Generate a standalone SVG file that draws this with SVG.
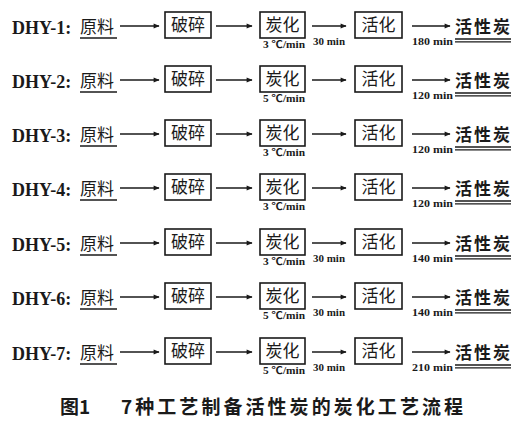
<svg xmlns="http://www.w3.org/2000/svg" width="524" height="440" viewBox="0 0 524 440">
<style>
.lbl{font-family:"Liberation Serif","Noto Sans CJK SC",serif;font-weight:bold;font-size:18px;fill:#1a1a1a}
.cn{font-family:"Noto Sans CJK SC",sans-serif;font-size:17px;fill:#1a1a1a}
.cnb{font-family:"Noto Sans CJK SC",sans-serif;font-size:17px;font-weight:bold;fill:#1a1a1a}
.sm{font-family:"Liberation Serif","Noto Sans CJK SC",serif;font-weight:bold;font-size:10.5px;fill:#1a1a1a}
.box{fill:#fff;stroke:#1a1a1a;stroke-width:1.6}
.ln{stroke:#1a1a1a;stroke-width:1.3;fill:none}
.ar{stroke:#1a1a1a;stroke-width:1.5;fill:none;marker-end:url(#ah)}
.cap{font-family:"Noto Sans CJK SC",sans-serif;font-weight:bold;font-size:19px;fill:#1a1a1a}
</style>
<defs>
<marker id="ah" viewBox="0 0 10 10" refX="9" refY="5" markerWidth="8" markerHeight="6" markerUnits="userSpaceOnUse" orient="auto">
<path d="M0,1 L10,5 L0,9 Z" fill="#1a1a1a"/>
</marker>
</defs>
<rect width="524" height="440" fill="#fff"/>

<!-- Row 1 cy=25 -->
<g id="r1-label"><text class="lbl" x="12" y="34">DHY-1:</text></g>
<g id="r1-raw"><text class="cn" x="80" y="33">原料</text><line class="ln" x1="80" y1="38" x2="117" y2="38"/></g>
<g id="r1-crush"><rect class="box" x="165" y="12" width="46" height="26"/><text class="cn" x="188" y="31" text-anchor="middle">破碎</text></g>
<g id="r1-carb"><rect class="box" x="260" y="12" width="45" height="26"/><text class="cn" x="282.5" y="31" text-anchor="middle">炭化</text><text class="sm" x="263" y="48" textLength="42" lengthAdjust="spacingAndGlyphs">3 ℃/min</text></g>
<g id="r1-act"><rect class="box" x="355" y="12" width="47" height="26"/><text class="cn" x="378.5" y="31" text-anchor="middle">活化</text></g>
<g id="r1-prod"><text class="cnb" x="455" y="33" textLength="55">活性炭</text><line class="ln" x1="455" y1="39" x2="511" y2="39"/><line class="ln" x1="455" y1="41.8" x2="511" y2="41.8"/></g>

<!-- Row 2 cy=79 -->
<g id="r2-label"><text class="lbl" x="12" y="88">DHY-2:</text></g>
<g id="r2-raw"><text class="cn" x="80" y="87">原料</text><line class="ln" x1="80" y1="92" x2="117" y2="92"/></g>
<g id="r2-crush"><rect class="box" x="165" y="66" width="46" height="26"/><text class="cn" x="188" y="85" text-anchor="middle">破碎</text></g>
<g id="r2-carb"><rect class="box" x="260" y="66" width="45" height="26"/><text class="cn" x="282.5" y="85" text-anchor="middle">炭化</text><text class="sm" x="263" y="102" textLength="42" lengthAdjust="spacingAndGlyphs">5 ℃/min</text></g>
<g id="r2-act"><rect class="box" x="355" y="66" width="47" height="26"/><text class="cn" x="378.5" y="85" text-anchor="middle">活化</text></g>
<g id="r2-prod"><text class="cnb" x="455" y="87" textLength="55">活性炭</text><line class="ln" x1="455" y1="93" x2="511" y2="93"/><line class="ln" x1="455" y1="95.8" x2="511" y2="95.8"/></g>

<!-- Row 3 cy=133 -->
<g id="r3-label"><text class="lbl" x="12" y="142">DHY-3:</text></g>
<g id="r3-raw"><text class="cn" x="80" y="141">原料</text><line class="ln" x1="80" y1="146" x2="117" y2="146"/></g>
<g id="r3-crush"><rect class="box" x="165" y="120" width="46" height="26"/><text class="cn" x="188" y="139" text-anchor="middle">破碎</text></g>
<g id="r3-carb"><rect class="box" x="260" y="120" width="45" height="26"/><text class="cn" x="282.5" y="139" text-anchor="middle">炭化</text><text class="sm" x="263" y="156" textLength="42" lengthAdjust="spacingAndGlyphs">3 ℃/min</text></g>
<g id="r3-act"><rect class="box" x="355" y="120" width="47" height="26"/><text class="cn" x="378.5" y="139" text-anchor="middle">活化</text></g>
<g id="r3-prod"><text class="cnb" x="455" y="141" textLength="55">活性炭</text><line class="ln" x1="455" y1="147" x2="511" y2="147"/><line class="ln" x1="455" y1="149.8" x2="511" y2="149.8"/></g>

<!-- Row 4 cy=187 -->
<g id="r4-label"><text class="lbl" x="12" y="196">DHY-4:</text></g>
<g id="r4-raw"><text class="cn" x="80" y="195">原料</text><line class="ln" x1="80" y1="200" x2="117" y2="200"/></g>
<g id="r4-crush"><rect class="box" x="165" y="174" width="46" height="26"/><text class="cn" x="188" y="193" text-anchor="middle">破碎</text></g>
<g id="r4-carb"><rect class="box" x="260" y="174" width="45" height="26"/><text class="cn" x="282.5" y="193" text-anchor="middle">炭化</text><text class="sm" x="263" y="210" textLength="42" lengthAdjust="spacingAndGlyphs">3 ℃/min</text></g>
<g id="r4-act"><rect class="box" x="355" y="174" width="47" height="26"/><text class="cn" x="378.5" y="193" text-anchor="middle">活化</text></g>
<g id="r4-prod"><text class="cnb" x="455" y="195" textLength="55">活性炭</text><line class="ln" x1="455" y1="201" x2="511" y2="201"/><line class="ln" x1="455" y1="203.8" x2="511" y2="203.8"/></g>

<!-- Row 5 cy=242 -->
<g id="r5-label"><text class="lbl" x="12" y="251">DHY-5:</text></g>
<g id="r5-raw"><text class="cn" x="80" y="250">原料</text><line class="ln" x1="80" y1="255" x2="117" y2="255"/></g>
<g id="r5-crush"><rect class="box" x="165" y="229" width="46" height="26"/><text class="cn" x="188" y="248" text-anchor="middle">破碎</text></g>
<g id="r5-carb"><rect class="box" x="260" y="229" width="45" height="26"/><text class="cn" x="282.5" y="248" text-anchor="middle">炭化</text><text class="sm" x="263" y="265" textLength="42" lengthAdjust="spacingAndGlyphs">3 ℃/min</text></g>
<g id="r5-act"><rect class="box" x="355" y="229" width="47" height="26"/><text class="cn" x="378.5" y="248" text-anchor="middle">活化</text></g>
<g id="r5-prod"><text class="cnb" x="455" y="250" textLength="55">活性炭</text><line class="ln" x1="455" y1="256" x2="511" y2="256"/><line class="ln" x1="455" y1="258.8" x2="511" y2="258.8"/></g>

<!-- Row 6 cy=296 -->
<g id="r6-label"><text class="lbl" x="12" y="305">DHY-6:</text></g>
<g id="r6-raw"><text class="cn" x="80" y="304">原料</text><line class="ln" x1="80" y1="309" x2="117" y2="309"/></g>
<g id="r6-crush"><rect class="box" x="165" y="283" width="46" height="26"/><text class="cn" x="188" y="302" text-anchor="middle">破碎</text></g>
<g id="r6-carb"><rect class="box" x="260" y="283" width="45" height="26"/><text class="cn" x="282.5" y="302" text-anchor="middle">炭化</text><text class="sm" x="263" y="319" textLength="42" lengthAdjust="spacingAndGlyphs">5 ℃/min</text></g>
<g id="r6-act"><rect class="box" x="355" y="283" width="47" height="26"/><text class="cn" x="378.5" y="302" text-anchor="middle">活化</text></g>
<g id="r6-prod"><text class="cnb" x="455" y="304" textLength="55">活性炭</text><line class="ln" x1="455" y1="310" x2="511" y2="310"/><line class="ln" x1="455" y1="312.8" x2="511" y2="312.8"/></g>

<!-- Row 7 cy=351 -->
<g id="r7-label"><text class="lbl" x="12" y="360">DHY-7:</text></g>
<g id="r7-raw"><text class="cn" x="80" y="359">原料</text><line class="ln" x1="80" y1="364" x2="117" y2="364"/></g>
<g id="r7-crush"><rect class="box" x="165" y="338" width="46" height="26"/><text class="cn" x="188" y="357" text-anchor="middle">破碎</text></g>
<g id="r7-carb"><rect class="box" x="260" y="338" width="45" height="26"/><text class="cn" x="282.5" y="357" text-anchor="middle">炭化</text><text class="sm" x="263" y="374" textLength="42" lengthAdjust="spacingAndGlyphs">5 ℃/min</text></g>
<g id="r7-act"><rect class="box" x="355" y="338" width="47" height="26"/><text class="cn" x="378.5" y="357" text-anchor="middle">活化</text></g>
<g id="r7-prod"><text class="cnb" x="455" y="359" textLength="55">活性炭</text><line class="ln" x1="455" y1="365" x2="511" y2="365"/><line class="ln" x1="455" y1="367.8" x2="511" y2="367.8"/></g>

<g id="connectors">
<line class="ar" x1="120" y1="26" x2="159" y2="26"/><line class="ar" x1="216" y1="26" x2="252" y2="26"/><line class="ar" x1="312" y1="26" x2="346" y2="26"/><line class="ar" x1="412" y1="26" x2="450" y2="26"/>
<line class="ar" x1="120" y1="80" x2="159" y2="80"/><line class="ar" x1="216" y1="80" x2="252" y2="80"/><line class="ar" x1="312" y1="80" x2="346" y2="80"/><line class="ar" x1="412" y1="80" x2="450" y2="80"/>
<line class="ar" x1="120" y1="134" x2="159" y2="134"/><line class="ar" x1="216" y1="134" x2="252" y2="134"/><line class="ar" x1="312" y1="134" x2="346" y2="134"/><line class="ar" x1="412" y1="134" x2="450" y2="134"/>
<line class="ar" x1="120" y1="188" x2="159" y2="188"/><line class="ar" x1="216" y1="188" x2="252" y2="188"/><line class="ar" x1="312" y1="188" x2="346" y2="188"/><line class="ar" x1="412" y1="188" x2="450" y2="188"/>
<line class="ar" x1="120" y1="243" x2="159" y2="243"/><line class="ar" x1="216" y1="243" x2="252" y2="243"/><line class="ar" x1="312" y1="243" x2="346" y2="243"/><line class="ar" x1="412" y1="243" x2="450" y2="243"/>
<line class="ar" x1="120" y1="297" x2="159" y2="297"/><line class="ar" x1="216" y1="297" x2="252" y2="297"/><line class="ar" x1="312" y1="297" x2="346" y2="297"/><line class="ar" x1="412" y1="297" x2="450" y2="297"/>
<line class="ar" x1="120" y1="352" x2="159" y2="352"/><line class="ar" x1="216" y1="352" x2="252" y2="352"/><line class="ar" x1="312" y1="352" x2="346" y2="352"/><line class="ar" x1="412" y1="352" x2="450" y2="352"/>
<text class="sm" x="313" y="45" textLength="32" lengthAdjust="spacingAndGlyphs">30 min</text>
<text class="sm" x="412" y="45" textLength="41" lengthAdjust="spacingAndGlyphs">180 min</text>
<text class="sm" x="412" y="99" textLength="41" lengthAdjust="spacingAndGlyphs">120 min</text>
<text class="sm" x="412" y="153" textLength="41" lengthAdjust="spacingAndGlyphs">120 min</text>
<text class="sm" x="412" y="207" textLength="41" lengthAdjust="spacingAndGlyphs">120 min</text>
<text class="sm" x="313" y="262" textLength="32" lengthAdjust="spacingAndGlyphs">30 min</text>
<text class="sm" x="412" y="262" textLength="41" lengthAdjust="spacingAndGlyphs">140 min</text>
<text class="sm" x="313" y="316" textLength="32" lengthAdjust="spacingAndGlyphs">30 min</text>
<text class="sm" x="412" y="316" textLength="41" lengthAdjust="spacingAndGlyphs">140 min</text>
<text class="sm" x="313" y="371" textLength="32" lengthAdjust="spacingAndGlyphs">30 min</text>
<text class="sm" x="412" y="371" textLength="41" lengthAdjust="spacingAndGlyphs">210 min</text>
</g>

<g id="caption"><text class="cap" x="60" y="414">图1</text><text class="cap" x="121" y="414" textLength="342" lengthAdjust="spacing">7种工艺制备活性炭的炭化工艺流程</text></g>
</svg>
